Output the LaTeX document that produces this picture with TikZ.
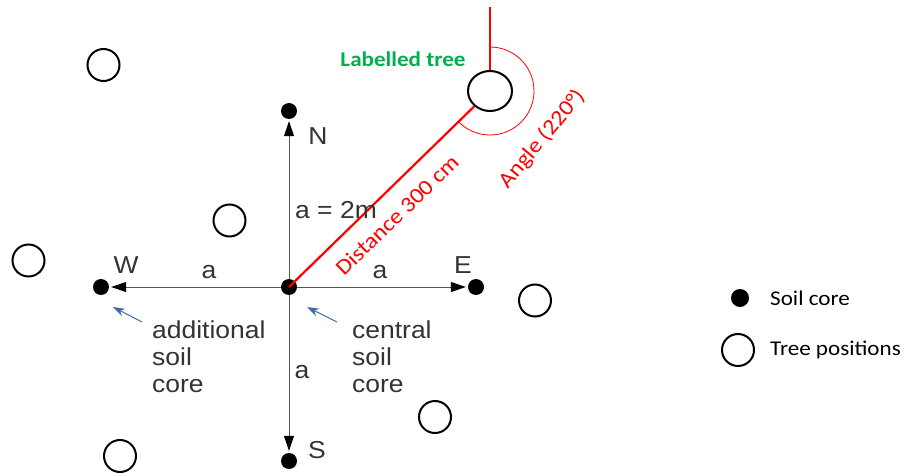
\documentclass[tikz,border=0pt]{standalone}
\usepackage{fontspec}
\setmainfont{Liberation Sans}
\newfontfamily\arialfont{Liberation Sans}[FakeStretch=1.08]
\newfontfamily\califont{Carlito}[FakeStretch=1.1]
\usetikzlibrary{arrows.meta,shapes.geometric}
\definecolor{txtgray}{HTML}{333333}
\definecolor{axgray}{HTML}{555555}
\definecolor{tagblue}{HTML}{3E6BA8}
\definecolor{lblgreen}{HTML}{00B050}
\definecolor{myred}{HTML}{FF0000}
\begin{document}
\begin{tikzpicture}[x=1pt,y=1pt,
  core/.style={circle,fill=black,inner sep=0pt,minimum size=16pt},
  tree/.style={circle,draw=black,line width=2pt,inner sep=0pt,minimum size=32pt},
  axis/.style={draw=axgray,line width=1pt,-{Triangle[length=15pt,width=10pt,fill=black,color=black]},shorten >=2pt},
  gtxt/.style={text=txtgray,font=\arialfont\fontsize{24.5}{27}\selectfont,inner sep=0pt},
  ctxt/.style={font=\califont\fontsize{21}{24}\selectfont,inner sep=0pt},
  tag/.style={draw=tagblue,line width=1pt,-{Stealth[length=12pt,width=8pt]}}]
\useasboundingbox (0,0) rectangle (908,475);
% soil cores
\node[core] (c) at (289,188) {};
\node[core] (n) at (289,364) {};
\node[core] (s) at (289,14) {};
\node[core] (w) at (101,188) {};
\node[core] (e) at (476,188) {};
% axes
\draw[axis] (c) -- (n);
\draw[axis] (c) -- (s);
\draw[axis] (c) -- (w);
\draw[axis] (c) -- (e);
% trees
\node[tree] (t1) at (103.5,410) {};
\node[tree] (t2) at (229.5,254.5) {};
\node[tree] (t3) at (28.5,214.5) {};
\node[tree] (t4) at (535,174.5) {};
\node[tree] (t5) at (435,58) {};
\node[tree] (t6) at (120,19) {};
\node[ellipse,draw=black,line width=2pt,inner sep=0pt,minimum width=44pt,minimum height=40pt] (lt) at (490,384) {};
% red construction
\coordinate (top) at (490,468);
\draw[myred,line width=1.4pt] (lt.north) -- (top);
\draw[myred,line width=0.8pt] ([shift={(90:44pt)}]lt.center) arc[start angle=90,end angle=-136,radius=44pt];
\draw[myred,line width=2.2pt] (c.center) -- (lt);
% labels
\node[ctxt,text=lblgreen,font=\califont\bfseries\fontsize{21}{24}\selectfont,anchor=base] (ltl) at (403,408) {Labelled tree};
\node[ctxt,text=myred,rotate=44,font=\califont\fontsize{22}{24}\selectfont] (dist) at (397,260) {Distance 300 cm};
\node[ctxt,text=myred,rotate=50,font=\califont\fontsize{22}{24}\selectfont] (ang) at (542,336) {Angle (220°)};
\node[gtxt] (nl) at (318,339) {N};
\node[gtxt] (sl) at (317,25) {S};
\node[gtxt] (wl) at (126,210) {W};
\node[gtxt] (el) at (463,210) {E};
\node[gtxt] (aw) at (209,203) {a};
\node[gtxt] (ae) at (380,203) {a};
\node[gtxt] (as) at (302,103) {a};
\node[gtxt] (an) at (336,265) {a = 2m};
\node[gtxt,align=left,anchor=north west] (add) at (152,154) {additional\\soil\\core};
\node[gtxt,align=left,anchor=north west] (cen) at (352,154) {central\\soil\\core};
% pointer arrows
\coordinate (p1s) at (142,153);
\coordinate (p1e) at (113,168);
\coordinate (p2s) at (337,153);
\coordinate (p2e) at (307,168);
\draw[tag] (p1s) -- (p1e);
\draw[tag] (p2s) -- (p2e);
% legend
\node[core,minimum size=18pt] (lgc) at (740,177) {};
\node[tree] (lgt) at (738,125) {};
\node[ctxt,anchor=west] (lgct) at (770,177) {Soil core};
\node[ctxt,anchor=west] (lgtt) at (770,125) {Tree positions};
\end{tikzpicture}
\end{document}
